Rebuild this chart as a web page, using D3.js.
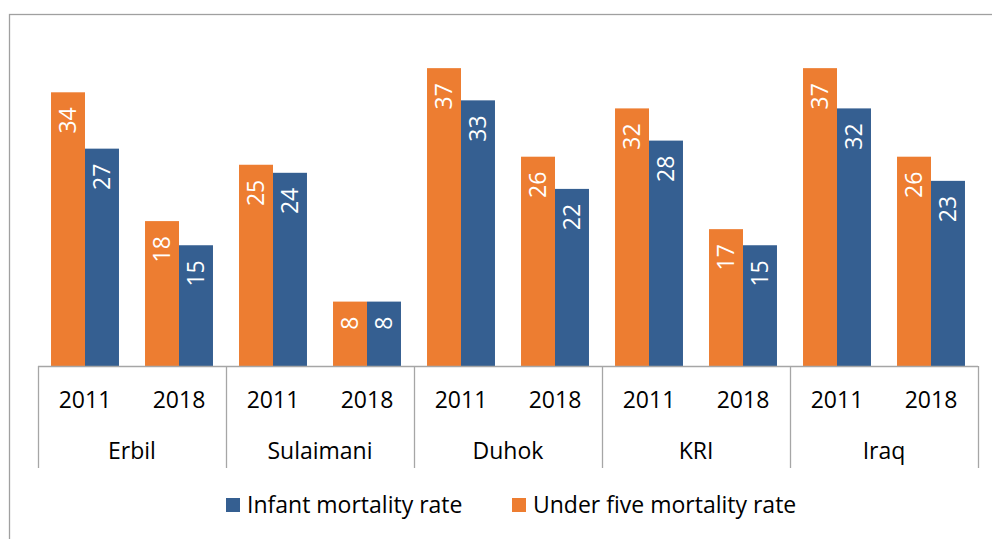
<!DOCTYPE html>
<html>
<head>
<meta charset="utf-8">
<script src="https://cdn.jsdelivr.net/npm/d3@7"></script>
<style>
  html, body { margin: 0; padding: 0; background: #fff; }
  svg { display: block; }
  text { font-family: "Open Sans", "Noto Sans", sans-serif; }
</style>
</head>
<body>
<svg id="chart" width="992" height="539"></svg>
<script>
// ---- data ----
const regions = ["Erbil", "Sulaimani", "Duhok", "KRI", "Iraq"];
const years = ["2011", "2018"];
const seriesNames = ["Under five mortality rate", "Infant mortality rate"];
const underFive = [[34, 18], [25, 8], [37, 26], [32, 17], [37, 26]];
const infant = [[27, 15], [24, 8], [33, 22], [28, 15], [32, 23]];
const legendOrder = ["Infant mortality rate", "Under five mortality rate"];
const colors = { "Under five mortality rate": "#ED7D31", "Infant mortality rate": "#355F91" };

const svg = d3.select("#chart");
const W = 992, H = 539;
const plot = { left: 38, right: 978, base: 366, top: 44 };

// outer frame
svg.append("rect")
  .attr("x", 9.5).attr("y", 14.5)
  .attr("width", 1000).attr("height", 600)
  .attr("fill", "none").attr("stroke", "#a0a0a0").attr("stroke-width", 1.3);

const y = d3.scaleLinear().domain([0, 40]).range([plot.base, plot.base - 40 * 8.05]);
const x0 = d3.scaleBand().domain(regions).range([plot.left, plot.right]).padding(0);
const x1 = d3.scaleBand().domain(years).range([0, x0.bandwidth()])
  .paddingInner(0.277).paddingOuter(0.1385);
const x2 = d3.scaleBand().domain(seriesNames).range([0, x1.bandwidth()]).padding(0);

const data = [];
regions.forEach((r, i) => {
  years.forEach((yr, j) => {
    data.push({ region: r, year: yr, series: "Under five mortality rate", value: underFive[i][j] });
    data.push({ region: r, year: yr, series: "Infant mortality rate", value: infant[i][j] });
  });
});

const bx = d => x0(d.region) + x1(d.year) + x2(d.series);

svg.append("g").selectAll("rect").data(data).join("rect")
  .attr("x", bx)
  .attr("y", d => y(d.value))
  .attr("width", x2.bandwidth())
  .attr("height", d => y(0) - y(d.value))
  .attr("fill", d => colors[d.series]);

// value labels (rotated, inside end)
svg.append("g").selectAll("text").data(data).join("text")
  .attr("transform", d => `translate(${bx(d) + x2.bandwidth() / 2},${y(d.value) + 15}) rotate(-90)`)
  .attr("text-anchor", "end")
  .attr("dy", "0.36em")
  .attr("fill", "#fff")
  .attr("font-size", 23)
  .text(d => d.value);

// axis line
const axisColor = "#a6a6a6";
svg.append("line")
  .attr("x1", plot.left).attr("x2", plot.right)
  .attr("y1", plot.base + 0.5).attr("y2", plot.base + 0.5)
  .attr("stroke", axisColor).attr("stroke-width", 1.3);

// group separators
const seps = regions.map(r => x0(r)).concat([plot.right]);
svg.append("g").selectAll("line").data(seps).join("line")
  .attr("x1", d => d + 0.5).attr("x2", d => d + 0.5)
  .attr("y1", plot.base).attr("y2", 468)
  .attr("stroke", axisColor).attr("stroke-width", 1.3);

// year labels
const yearLabels = [];
regions.forEach(r => years.forEach(yr => yearLabels.push({ region: r, year: yr })));
svg.append("g").selectAll("text").data(yearLabels).join("text")
  .attr("x", d => x0(d.region) + x1(d.year) + x1.bandwidth() / 2)
  .attr("y", 400)
  .attr("dy", "0.36em")
  .attr("text-anchor", "middle")
  .attr("font-size", 23)
  .attr("fill", "#000")
  .text(d => d.year);

// region labels
svg.append("g").selectAll("text").data(regions).join("text")
  .attr("x", d => x0(d) + x0.bandwidth() / 2)
  .attr("y", 451)
  .attr("dy", "0.36em")
  .attr("text-anchor", "middle")
  .attr("font-size", 23)
  .attr("fill", "#000")
  .text(d => d);

// legend
const legendX = [226, 512];
const lg = svg.append("g").selectAll("g").data(legendOrder).join("g")
  .attr("transform", (d, i) => `translate(${legendX[i]},505)`);
lg.append("rect").attr("x", 0).attr("y", -7).attr("width", 14).attr("height", 14)
  .attr("fill", d => colors[d]);
lg.append("text").attr("x", 21).attr("y", 0).attr("dy", "0.36em")
  .attr("font-size", 23).attr("fill", "#000")
  .text(d => d);
</script>
</body>
</html>
